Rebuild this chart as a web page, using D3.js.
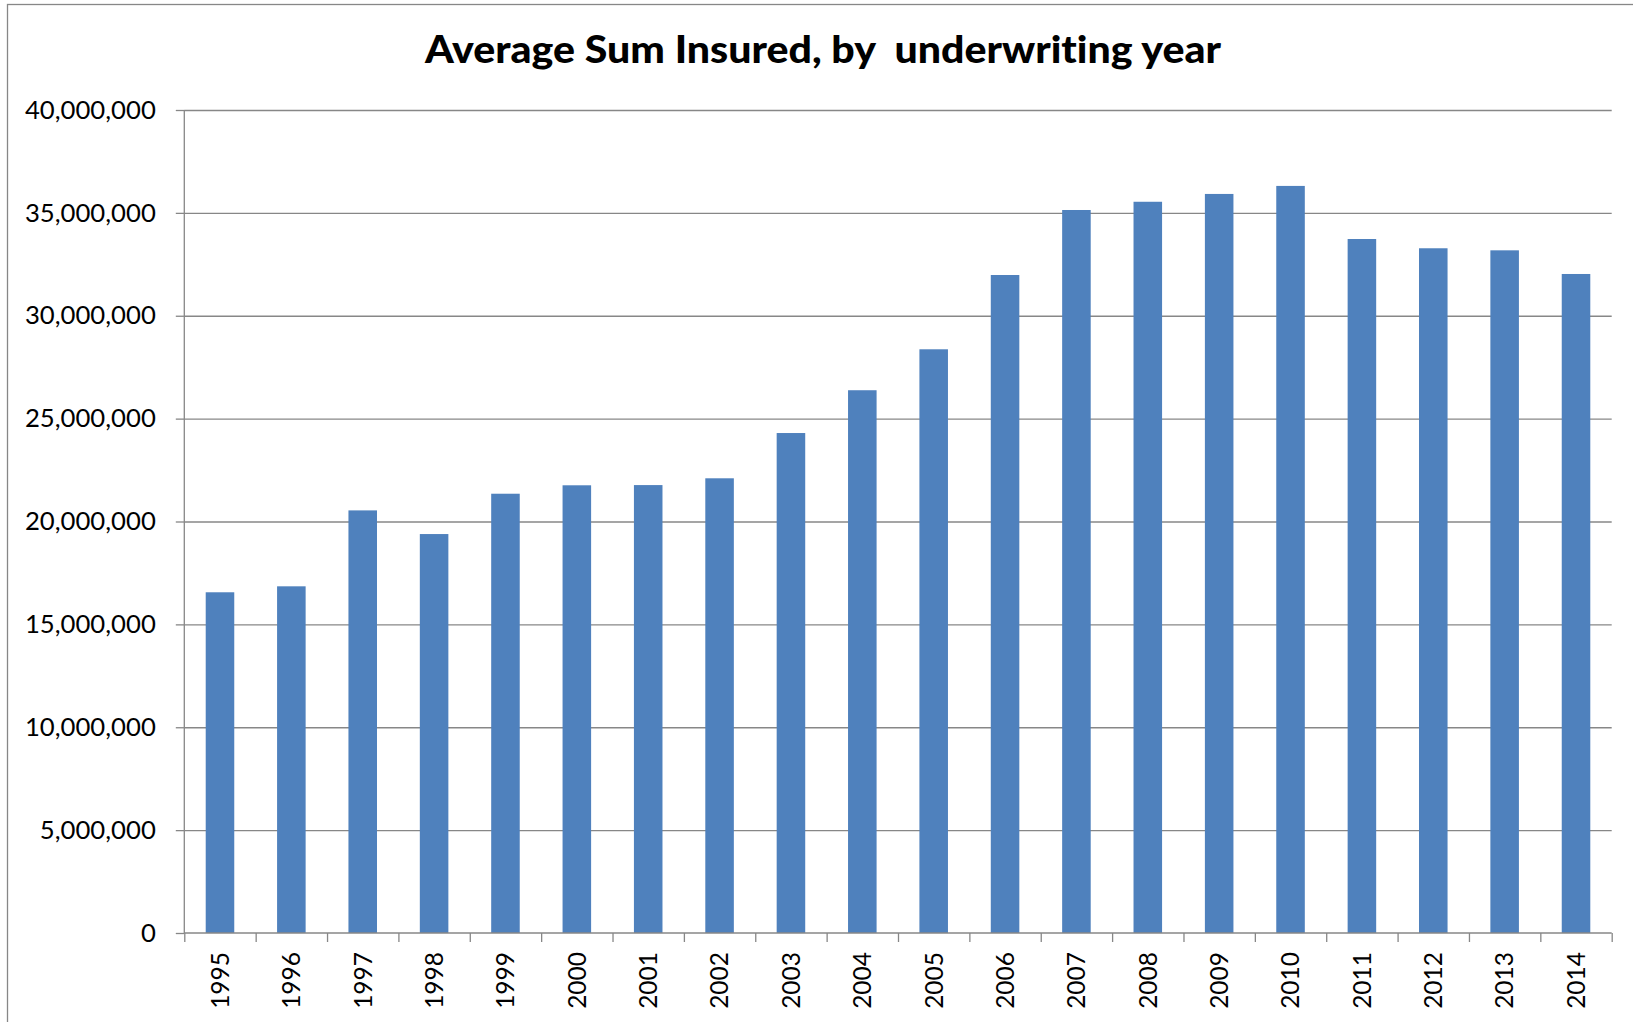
<!DOCTYPE html>
<html>
<head>
<meta charset="utf-8">
<script src="https://cdn.jsdelivr.net/npm/d3@7"></script>
<style>
  html, body { margin: 0; padding: 0; background: #fff; }
  svg { display: block; }
  text { font-variant-ligatures: none; }
</style>
</head>
<body>
<svg id="chart" width="1633" height="1022"></svg>
<script>
// Underwriting years and average sum insured per year
const years = ["1995","1996","1997","1998","1999","2000","2001","2002","2003","2004",
               "2005","2006","2007","2008","2009","2010","2011","2012","2013","2014"];
const avgSumInsured = [16560000, 16850000, 20540000, 19390000, 21350000, 21760000, 21770000, 22100000,
                       24300000, 26380000, 28370000, 31980000, 35140000, 35540000, 35920000, 36310000,
                       33730000, 33280000, 33180000, 32030000];
const yTicks = [0, 5000000, 10000000, 15000000, 20000000, 25000000, 30000000, 35000000, 40000000];
const titleText = "Average Sum Insured, by  underwriting year";

const W = 1633, H = 1022;
const plot = { left: 184.3, right: 1611.7, top: 110, bottom: 933 };
const gridColor = "#878787";
const barColor = "#4F81BD";
const labelFont = "Lato, 'Noto Sans', sans-serif";

const svg = d3.select("#chart");

// Outer chart frame (continues past the right and bottom edges)
svg.append("rect")
  .attr("x", 7.5).attr("y", 4.5)
  .attr("width", W + 20).attr("height", H + 20)
  .attr("fill", "#fff")
  .attr("stroke", gridColor).attr("stroke-width", 1.3);

const x = d3.scaleBand()
  .domain(years)
  .range([plot.left, plot.right])
  .paddingInner(0.6)
  .paddingOuter(0.3);

const y = d3.scaleLinear()
  .domain([0, 40000000])
  .range([plot.bottom, plot.top]);

// Horizontal gridlines
svg.append("g")
  .attr("transform", `translate(${plot.left},0)`)
  .call(d3.axisLeft(y).tickValues(yTicks.slice(1)).tickSize(-(plot.right - plot.left)).tickFormat(""))
  .call(g => g.select(".domain").remove())
  .call(g => g.selectAll("line").attr("stroke", gridColor).attr("stroke-width", 1.3));

// Bars
svg.append("g")
  .selectAll("rect")
  .data(years.map((yr, i) => ({ yr, v: avgSumInsured[i] })))
  .join("rect")
  .attr("x", d => x(d.yr))
  .attr("width", x.bandwidth())
  .attr("y", d => y(d.v))
  .attr("height", d => y(0) - y(d.v))
  .attr("fill", barColor);

// Y axis with labels
const yAxis = svg.append("g")
  .attr("transform", `translate(${plot.left},0)`)
  .call(d3.axisLeft(y).tickValues(yTicks).tickSize(8.5).tickPadding(20).tickFormat(d3.format(",")));
yAxis.select(".domain").attr("stroke", gridColor).attr("stroke-width", 1.3)
  .attr("d", `M0,${plot.top}V${plot.bottom}`);
yAxis.selectAll("line").attr("stroke", gridColor).attr("stroke-width", 1.3);
yAxis.selectAll("text")
  .attr("font-family", labelFont)
  .attr("font-size", 25.7)
  .attr("fill", "#000");

// X axis: tick marks on category boundaries
const boundary = d3.scaleLinear().domain([0, years.length]).range([plot.left, plot.right]);
const xTickAxis = svg.append("g")
  .attr("transform", `translate(0,${plot.bottom})`)
  .call(d3.axisBottom(boundary).tickValues(d3.range(years.length + 1)).tickSize(9).tickFormat(""));
xTickAxis.select(".domain").attr("stroke", gridColor).attr("stroke-width", 1.3)
  .attr("d", `M${plot.left},0H${plot.right}`);
xTickAxis.selectAll("line").attr("stroke", gridColor).attr("stroke-width", 1.3);

// X axis: rotated year labels
const xLabelAxis = svg.append("g")
  .attr("transform", `translate(0,${plot.bottom})`)
  .call(d3.axisBottom(x).tickSize(0).tickPadding(0));
xLabelAxis.select(".domain").remove();
xLabelAxis.selectAll("text")
  .attr("font-family", labelFont)
  .attr("font-size", 24.5)
  .attr("fill", "#000")
  .attr("text-anchor", "end")
  .attr("transform", "rotate(-90)")
  .attr("x", -19)
  .attr("y", 0)
  .attr("dy", "0.36em");

// Title, compressed horizontally to its measured width
svg.append("text")
  .attr("x", 823)
  .attr("y", 63.3)
  .attr("text-anchor", "middle")
  .attr("font-family", labelFont)
  .attr("font-weight", 900)
  .attr("font-size", 37)
  .attr("fill", "#000")
  .attr("textLength", 796)
  .attr("lengthAdjust", "spacingAndGlyphs")
  .style("white-space", "pre")
  .text(titleText);
</script>
</body>
</html>
